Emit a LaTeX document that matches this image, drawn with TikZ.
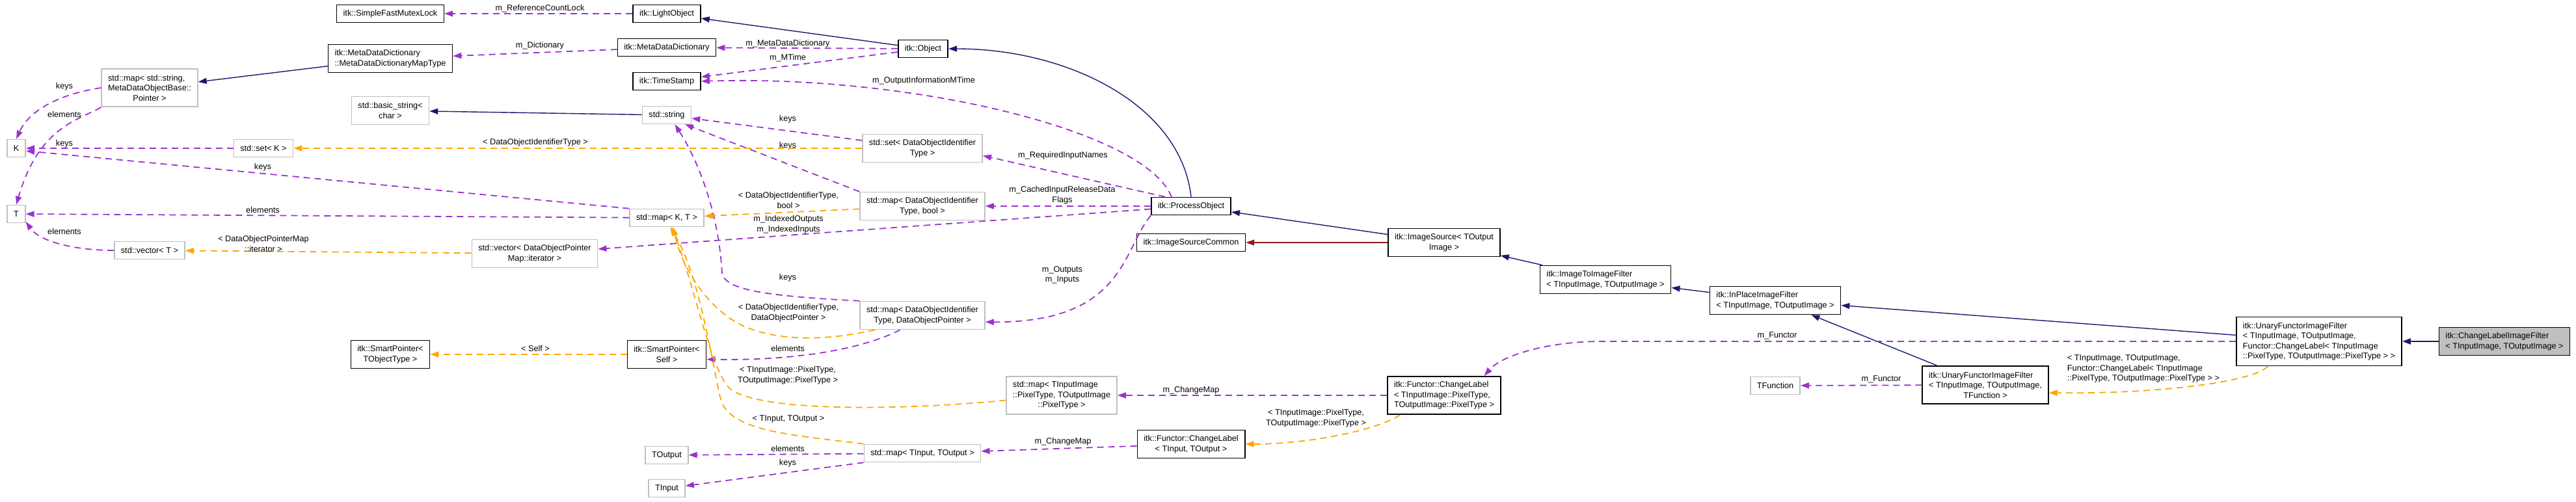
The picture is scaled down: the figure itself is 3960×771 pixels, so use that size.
\documentclass[tikz,border=0pt]{standalone}
\usepackage{fontspec}
\setmainfont{Liberation Sans}
\usetikzlibrary{arrows.meta, positioning}

\definecolor{inhblue}{HTML}{191970}
\definecolor{usepurple}{HTML}{9A32CD}
\definecolor{tplorange}{HTML}{FFA500}
\definecolor{privred}{HTML}{8B1A1A}
\definecolor{extgray}{HTML}{BFBFBF}

\begin{document}
\begin{tikzpicture}[x=0.5pt, y=-0.5pt,
    every node/.style={font=\fontsize{6.35}{7.75}\selectfont},
    cls/.style={draw=black, line width=0.8pt, fill=white, align=left, inner xsep=5pt, inner ysep=2pt, minimum height=13.5pt},
    ext/.style={cls, draw=extgray},
    two/.style={minimum height=21.5pt},
    three/.style={minimum height=29.25pt},
    four/.style={minimum height=37.5pt},
    inh/.style={draw=inhblue, line width=0.7pt, -{Triangle[length=6.5pt, width=4.5pt]}},
    member/.style={draw=usepurple, line width=0.9pt, dash pattern=on 5pt off 3.5pt, -{Triangle[length=6.5pt, width=4.5pt]}},
    tpl/.style={member, draw=tplorange},
    lbl/.style={align=center, inner sep=0pt}
]
    \useasboundingbox (0,0) rectangle (3960,771);

    % Classes
    \node[cls] (mutex) at (600,21) {itk::SimpleFastMutexLock};
    \node[cls] (lightobj) at (1025,21) {itk::LightObject};
    \node[cls, two] (mapType) at (600,90) {itk::MetaDataDictionary\\::MetaDataDictionaryMapType};
    \node[cls] (mdd) at (1025,73) {itk::MetaDataDictionary};
    \node[cls] (object) at (1419,75) {itk::Object};
    \node[cls] (timestamp) at (1025,125) {itk::TimeStamp};
    \node[ext, three] (mapStr) at (230,135) {std::map< std::string,\\MetaDataObjectBase::\\\hfil Pointer >};
    \node[ext, two] (basicstr) at (600,170) {std::basic\_string<\\\hfil char >};
    \node[ext] (string) at (1025,177) {std::string};
    \node[ext, two] (setDOI) at (1418,228) {std::set< DataObjectIdentifier\\\hfil Type >};
    \node[ext] (K) at (25,228) {K};
    \node[ext] (setK) at (405,228) {std::set< K >};
    \node[ext, two] (mapDOIbool) at (1418,317) {std::map< DataObjectIdentifier\\\hfil Type, bool >};
    \node[ext] (mapKT) at (1025,335) {std::map< K, T >};
    \node[ext] (T) at (25,329) {T};
    \node[cls] (procobj) at (1831,317) {itk::ProcessObject};
    \node[cls] (imgsrccommon) at (1831,373) {itk::ImageSourceCommon};
    \node[cls, two] (imgsrc) at (2220,373) {itk::ImageSource< TOutput\\\hfil Image >};
    \node[ext] (vecT) at (230,385) {std::vector< T >};
    \node[ext, two] (vecIter) at (822,390) {std::vector< DataObjectPointer\\\hfil Map::iterator >};
    \node[cls, two] (i2i) at (2468,430) {itk::ImageToImageFilter\\< TInputImage, TOutputImage >};
    \node[cls, two] (inplace) at (2729,462) {itk::InPlaceImageFilter\\< TInputImage, TOutputImage >};
    \node[ext, two] (mapDOIptr) at (1418,485) {std::map< DataObjectIdentifier\\\hfil Type, DataObjectPointer >};
    \node[cls, four] (ufifMain) at (3565,525) {itk::UnaryFunctorImageFilter\\< TInputImage, TOutputImage,\\Functor::ChangeLabel< TInputImage\\::PixelType, TOutputImage::PixelType > >};
    \node[cls, two, fill=extgray] (clFilter) at (3850,525) {itk::ChangeLabelImageFilter\\< TInputImage, TOutputImage >};
    \node[cls, two] (spTObj) at (600,545) {itk::SmartPointer<\\\hfil TObjectType >};
    \node[cls, two] (spSelf) at (1025,545) {itk::SmartPointer<\\\hfil Self >};
    \node[ext, three] (mapPix) at (1632,608) {std::map< TInputImage\\::PixelType, TOutputImage\\\hfil ::PixelType >};
    \node[cls, three] (clPix) at (2220,608) {itk::Functor::ChangeLabel\\< TInputImage::PixelType,\\TOutputImage::PixelType >};
    \node[ext] (tfunc) at (2729,593) {TFunction};
    \node[cls, three] (ufifT) at (3052,592) {itk::UnaryFunctorImageFilter\\< TInputImage, TOutputImage,\\\hfil TFunction >};
    \node[cls, two] (clTT) at (1831,683) {itk::Functor::ChangeLabel\\\hfil < TInput, TOutput >};
    \node[ext] (mapTT) at (1418,697) {std::map< TInput, TOutput >};
    \node[ext] (TOutput) at (1025,700) {TOutput};
    \node[ext] (TInput) at (1025,751) {TInput};

    % Inheritance
    \draw[inh] (object) -- (lightobj);
    \draw[inh] (mapType) -- (mapStr);
    \draw[inh] (string) -- (basicstr);
    \draw[inh] (procobj.north) .. controls (1815,160) and (1640,75) .. (object.east);
    \draw[inh] (imgsrc) -- (procobj);
    \draw[inh, draw=privred] (imgsrc) -- (imgsrccommon);
    \draw[inh] (i2i) -- (imgsrc);
    \draw[inh] (inplace) -- (i2i);
    \draw[inh] (ufifMain) -- (inplace);
    \draw[inh] (ufifT) -- (inplace);
    \draw[inh, line width=1.2pt] (clFilter) -- (ufifMain);

    % Members
    \draw[member] (lightobj) -- (mutex) node[lbl] at (830,13) {m\_ReferenceCountLock};
    \draw[member] (mdd) -- (mapType) node[lbl] at (830,70) {m\_Dictionary};
    \draw[member] (object) -- (mdd) node[lbl] at (1211,67) {m\_MetaDataDictionary};
    \draw[member] (object) -- (timestamp) node[lbl] at (1211,89) {m\_MTime};
    \draw[member] ([xshift=-15pt]procobj.north) .. controls (1760,200) and (1400,115) .. (timestamp.east) node[lbl] at (1420,124) {m\_OutputInformationMTime};
    \draw[member] ([xshift=-20pt]procobj.north) -- (setDOI.-7) node[lbl] at (1634,239) {m\_RequiredInputNames};
    \draw[member] (procobj) -- (mapDOIbool) node[lbl] at (1633,300) {m\_CachedInputReleaseData\\Flags};
    \draw[member] (procobj) -- (vecIter) node[lbl] at (1212,345) {m\_IndexedOutputs\\m\_IndexedInputs};
    \draw[member] (procobj.south west) .. controls (1725,385) and (1728,496) .. (mapDOIptr.-6) node[lbl] at (1633,423) {m\_Outputs\\m\_Inputs};
    \draw[member] (setDOI) -- (string) node[lbl] at (1211,183) {keys};
    \draw[member] (mapDOIbool.north west) -- (string.-27) node[lbl] at (1211,224) {keys};
    \draw[member] (mapDOIptr.north west) .. controls (1170,455) and (1115,445) .. (1110,420) .. controls (1105,330) and (1075,250) .. (string.-49) node[lbl] at (1211,427) {keys};
    \draw[member] (mapKT.north west) -- (K.-15) node[lbl] at (404,257) {keys};
    \draw[member] (mapKT) -- (T) node[lbl] at (404,323) {elements};
    \draw[member] (setK) -- (K) node[lbl] at (99,221) {keys};
    \draw[member] (mapStr.west) .. controls (90,145) and (45,170) .. (K.north) node[lbl] at (99,133) {keys};
    \draw[member] (mapStr.south west) .. controls (120,185) and (60,195) .. (T.north) node[lbl] at (99,176) {elements};
    \draw[member] (vecT.west) .. controls (110,385) and (60,370) .. (T.-39) node[lbl] at (99,356) {elements};
    \draw[member] (mapDOIptr.-147) .. controls (1330,535) and (1230,555) .. (spSelf.-7) node[lbl] at (1211,536) {elements};
    \draw[member] (clTT) -- (mapTT) node[lbl] at (1634,679) {m\_ChangeMap};
    \draw[member] (mapTT) -- (TOutput) node[lbl] at (1211,690) {elements};
    \draw[member] (mapTT.south west) -- (TInput) node[lbl] at (1211,712) {keys};
    \draw[member] (clPix) -- (mapPix) node[lbl] at (1831,600) {m\_ChangeMap};
    \draw[member] (ufifMain.west) -- (2460,525) .. controls (2385,525) and (2310,545) .. (clPix.26) node[lbl] at (2732,516) {m\_Functor};
    \draw[member] (ufifT) -- (tfunc) node[lbl] at (2892,583) {m\_Functor};

    % Template instances
    \draw[tpl] (setDOI) -- (setK) node[lbl] at (823,219) {< DataObjectIdentifierType >};
    \draw[tpl] (vecIter) -- (vecT) node[lbl] at (405,375) {< DataObjectPointerMap\\::iterator >};
    \draw[tpl] (spSelf) -- (spTObj) node[lbl] at (823,536) {< Self >};
    \draw[tpl] (mapDOIbool) -- (mapKT) node[lbl] at (1212,308) {< DataObjectIdentifierType,\\bool >};
    \draw[tpl] (mapDOIptr.-163) .. controls (1280,522) and (1200,528) .. (1140,500) .. controls (1080,470) and (1045,400) .. (mapKT.-55) node[lbl] at (1212,481) {< DataObjectIdentifierType,\\DataObjectPointer >};
    \draw[tpl] (mapPix.-175) .. controls (1400,630) and (1180,635) .. (1125,600) .. controls (1095,581) and (1065,430) .. (mapKT.-62) node[lbl] at (1211,577) {< TInputImage::PixelType,\\TOutputImage::PixelType >};
    \draw[tpl] (mapTT.north west) .. controls (1230,670) and (1130,665) .. (1110,620) .. controls (1100,597) and (1080,430) .. (mapKT.-70) node[lbl] at (1212,644) {< TInput, TOutput >};
    \draw[tpl] (clPix.-156) .. controls (2110,665) and (2000,683) .. (clTT.east) node[lbl] at (2023,643) {< TInputImage::PixelType,\\TOutputImage::PixelType >};
    \draw[tpl] (ufifMain.-154) .. controls (3460,590) and (3300,606) .. (ufifT.-7) node[lbl, align=left] at (3295,567) {< TInputImage, TOutputImage,\\Functor::ChangeLabel< TInputImage\\::PixelType, TOutputImage::PixelType > >};
\end{tikzpicture}
\end{document}
